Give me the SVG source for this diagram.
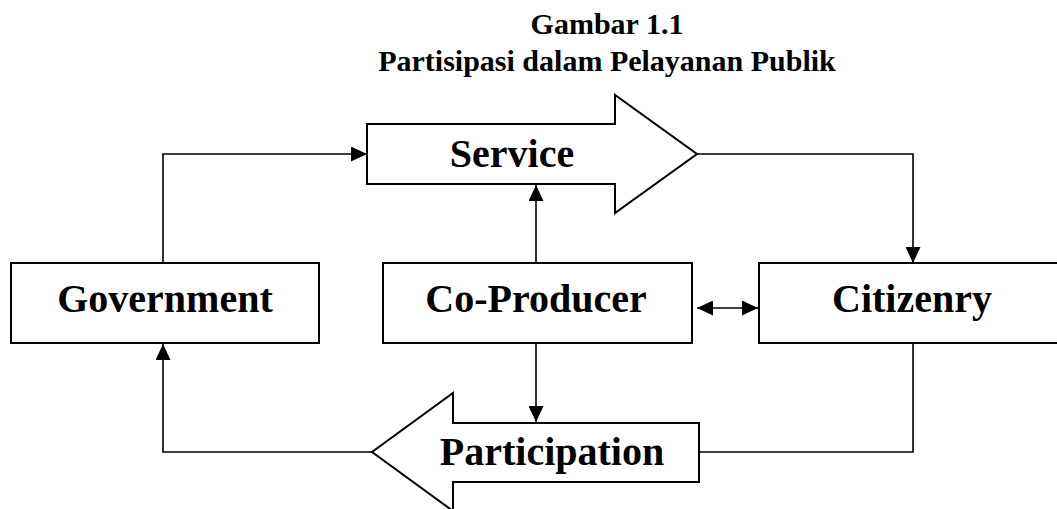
<svg xmlns="http://www.w3.org/2000/svg" width="1057" height="509" viewBox="0 0 1057 509">
<style>
.box{fill:#fff;stroke:#000;stroke-width:2}
.lbl{font-family:"Liberation Serif","Times New Roman",serif;font-weight:bold;font-size:40px;fill:#000;text-anchor:middle}
.ttl{font-family:"Liberation Serif","Times New Roman",serif;font-weight:bold;font-size:30px;fill:#000;text-anchor:middle}
.con{fill:none;stroke:#000;stroke-width:1.6}
</style>
<defs>
<marker id="ah" markerUnits="userSpaceOnUse" markerWidth="16" markerHeight="15" refX="16" refY="7.5" orient="auto-start-reverse" viewBox="0 0 16 15">
<path d="M0,0 L16,7.5 L0,15 z" fill="#000"/>
</marker>
</defs>
<rect width="1057" height="509" fill="#fff"/>
<g id="title">
<text class="ttl" x="607" y="34">Gambar 1.1</text>
<text class="ttl" x="607" y="71">Partisipasi dalam Pelayanan Publik</text>
</g>
<g id="connectors">
<polyline class="con" points="163,263 163,154 367,154" marker-end="url(#ah)"/>
<polyline class="con" points="697,154 913,154 913,263" marker-end="url(#ah)"/>
<line class="con" x1="536" y1="263" x2="536" y2="185" marker-end="url(#ah)"/>
<line class="con" x1="536" y1="343" x2="536" y2="422" marker-end="url(#ah)"/>
<line class="con" x1="697" y1="308" x2="758" y2="308" marker-start="url(#ah)" marker-end="url(#ah)"/>
<polyline class="con" points="913,343 913,452 699,452"/>
<polyline class="con" points="372,452 163,452 163,344" marker-end="url(#ah)"/>
</g>
<g id="service">
<path class="box" d="M367,124 L615,124 L615,95 L697,154 L615,213 L615,184 L367,184 Z"/>
<text class="lbl" x="512" y="167">Service</text>
</g>
<g id="government">
<rect class="box" x="11" y="263" width="308" height="80"/>
<text class="lbl" x="165" y="312">Government</text>
</g>
<g id="coproducer">
<rect class="box" x="383" y="263" width="309" height="80"/>
<text class="lbl" x="536" y="312">Co-Producer</text>
</g>
<g id="citizenry">
<rect class="box" x="759" y="263" width="300" height="80"/>
<text class="lbl" x="912" y="312">Citizenry</text>
</g>
<g id="participation">
<path class="box" d="M699,423 L453,423 L453,393 L372,452 L453,511 L453,482 L699,482 Z"/>
<text class="lbl" x="552" y="465">Participation</text>
</g>
</svg>
